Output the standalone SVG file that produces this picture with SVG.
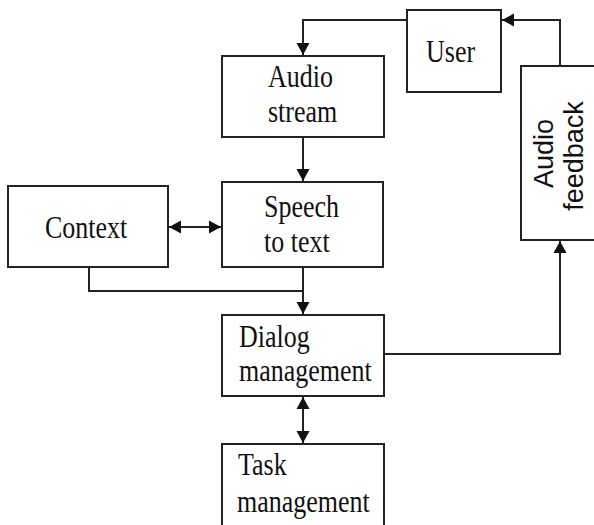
<svg xmlns="http://www.w3.org/2000/svg" width="594" height="525" viewBox="0 0 594 525">
<style>
.box{fill:#fff;stroke:#222;stroke-width:2}
.t{font-family:"Liberation Serif","Times New Roman",serif;font-size:26px;fill:#111}
.s{font-family:"Liberation Sans",Arial,sans-serif;font-size:27px;fill:#111;text-anchor:middle}
.c{fill:none;stroke:#222;stroke-width:2}
</style>
<defs>
<marker id="ah" markerUnits="userSpaceOnUse" markerWidth="13" markerHeight="14" refX="12" refY="6.5" orient="auto-start-reverse" viewBox="0 0 13 13">
<path d="M0,0 L12,6.5 L0,13 z" fill="#111"/>
</marker>
</defs>
<rect width="594" height="525" fill="#fff"/>
<g id="connectors">
<path class="c" d="M407,20 H303 V55" marker-end="url(#ah)"/>
<path class="c" d="M560,66 V20 H502" marker-end="url(#ah)"/>
<path class="c" d="M303,137 V181" marker-end="url(#ah)"/>
<path class="c" d="M169,227 H221" marker-start="url(#ah)" marker-end="url(#ah)"/>
<path class="c" d="M89,267 V291 H303"/>
<path class="c" d="M303,267 V314" marker-end="url(#ah)"/>
<path class="c" d="M384,354 H560 V241" marker-end="url(#ah)"/>
<path class="c" d="M303,397 V443" marker-start="url(#ah)" marker-end="url(#ah)"/>
</g>
<g id="user">
<rect class="box" x="407" y="10" width="94" height="82"/>
<text class="t" transform="translate(426,62) scale(1,1.2)">User</text>
</g>
<g id="audio-stream">
<rect class="box" x="222" y="56" width="162" height="81"/>
<text class="t" transform="translate(268,87) scale(1,1.2)">Audio</text>
<text class="t" transform="translate(268,122) scale(1,1.2)">stream</text>
</g>
<g id="audio-feedback">
<rect class="box" x="521" y="66" width="80" height="174"/>
<text class="s" transform="translate(553,153.5) rotate(-90)">Audio</text>
<text class="s" transform="translate(583,156) rotate(-90)">feedback</text>
</g>
<g id="context">
<rect class="box" x="8" y="186" width="160" height="81"/>
<text class="t" transform="translate(45,238) scale(1,1.2)">Context</text>
</g>
<g id="speech-to-text">
<rect class="box" x="222" y="182" width="161" height="85"/>
<text class="t" transform="translate(264,217) scale(1,1.2)">Speech</text>
<text class="t" transform="translate(264,252) scale(1,1.2)">to text</text>
</g>
<g id="dialog-management">
<rect class="box" x="222" y="315" width="162" height="81"/>
<text class="t" transform="translate(239,347) scale(1,1.2)">Dialog</text>
<text class="t" transform="translate(239,381) scale(1,1.2)">management</text>
</g>
<g id="task-management">
<rect class="box" x="222" y="444" width="162" height="90"/>
<text class="t" transform="translate(238,475) scale(1,1.2)">Task</text>
<text class="t" transform="translate(237,512) scale(1,1.2)">management</text>
</g>
</svg>
